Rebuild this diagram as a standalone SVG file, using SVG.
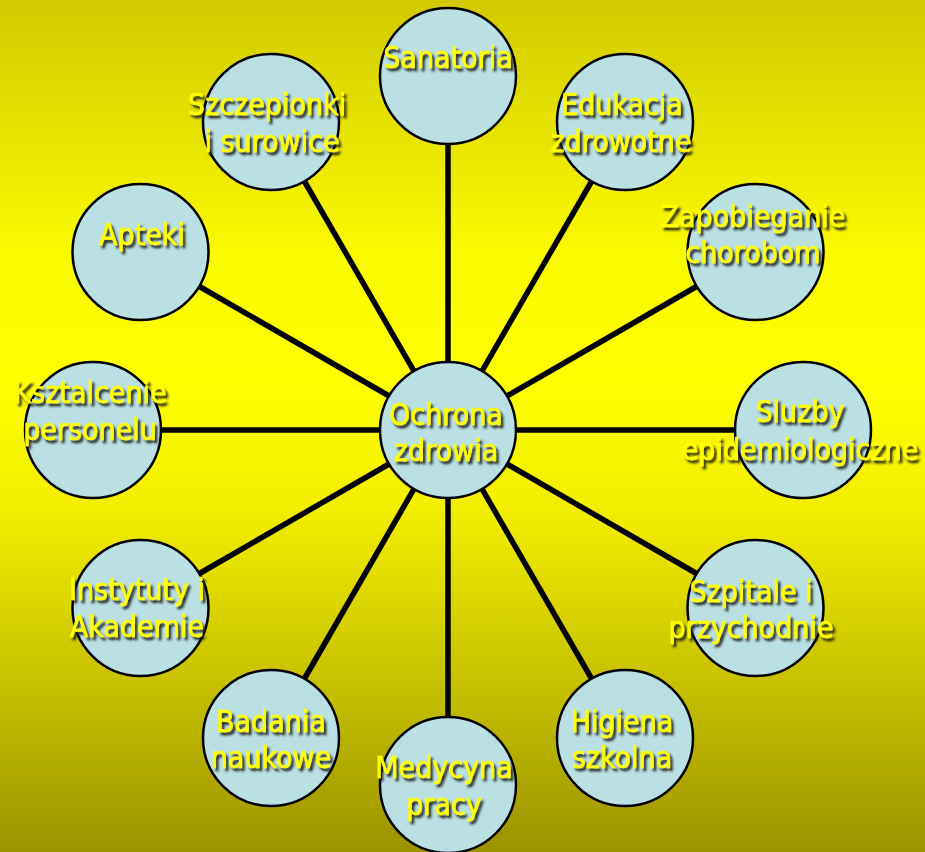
<svg xmlns="http://www.w3.org/2000/svg" width="925" height="852" viewBox="0 0 925 852">
  <defs>
    <linearGradient id="bg" x1="0" y1="0" x2="0" y2="1">
      <stop offset="0" stop-color="#d2ca00"/>
      <stop offset="0.3" stop-color="#fbfb00"/>
      <stop offset="0.45" stop-color="#ffff00"/>
      <stop offset="0.6" stop-color="#f2ee00"/>
      <stop offset="1" stop-color="#9c9400"/>
    </linearGradient>
    <filter id="sh" x="-20%" y="-40%" width="140%" height="180%">
      <feDropShadow dx="2.5" dy="3" stdDeviation="1.3" flood-color="#1e1e14" flood-opacity="0.95"/>
    </filter>
  </defs>
  <style>
    .node circle { fill: #bae0e3; stroke: #000; stroke-width: 2.5; }
    .node text { font-family: "DejaVu Sans Condensed", "DejaVu Sans", sans-serif; font-size: 30px; fill: #ffff00; stroke: #ffff00; stroke-width: 0.5; text-anchor: middle; filter: url(#sh); }
    #connectors line { stroke: #000; stroke-width: 5.5; }
  </style>
  <rect x="0" y="0" width="925" height="852" fill="url(#bg)"/>
  <g id="connectors">
    <line x1="448" y1="362" x2="448" y2="143"/>
    <line x1="482" y1="371.1" x2="591.5" y2="181.5"/>
    <line x1="506.9" y1="396" x2="696.5" y2="286.5"/>
    <line x1="516" y1="430" x2="735" y2="430"/>
    <line x1="506.9" y1="464" x2="696.5" y2="573.5"/>
    <line x1="482" y1="488.9" x2="591.5" y2="678.5"/>
    <line x1="448" y1="498" x2="448" y2="717"/>
    <line x1="414" y1="488.9" x2="304.5" y2="678.5"/>
    <line x1="389.1" y1="464" x2="199.5" y2="573.5"/>
    <line x1="380" y1="430" x2="161" y2="430"/>
    <line x1="389.1" y1="396" x2="199.5" y2="286.5"/>
    <line x1="414" y1="371.1" x2="304.5" y2="181.5"/>
  </g>
  <g id="center" class="node">
    <circle cx="448" cy="430" r="68"/>
    <text x="446" y="425">Ochrona</text>
    <text x="446" y="461">zdrowia</text>
  </g>
  <g id="sanatoria" class="node">
    <circle cx="448" cy="76" r="68"/>
    <text x="448" y="68">Sanatoria</text>
  </g>
  <g id="edukacja" class="node">
    <circle cx="625" cy="122" r="68"/>
    <text x="622" y="115">Edukacja</text>
    <text x="621" y="152">zdrowotne</text>
  </g>
  <g id="zapobieganie" class="node">
    <circle cx="755.5" cy="252" r="68"/>
    <text x="753" y="227">Zapobieganie</text>
    <text x="753" y="263">chorobom</text>
  </g>
  <g id="sluzby" class="node">
    <circle cx="803" cy="430" r="68"/>
    <text x="800" y="422">Sluzby</text>
    <text x="800" y="460">epidemiologiczne</text>
  </g>
  <g id="szpitale" class="node">
    <circle cx="755.5" cy="608" r="68"/>
    <text x="751" y="602">Szpitale i</text>
    <text x="751" y="638">przychodnie</text>
  </g>
  <g id="higiena" class="node">
    <circle cx="625" cy="738" r="68"/>
    <text x="622" y="732">Higiena</text>
    <text x="622" y="768">szkolna</text>
  </g>
  <g id="medycyna" class="node">
    <circle cx="448" cy="785" r="68"/>
    <text x="444" y="778">Medycyna</text>
    <text x="444" y="815">pracy</text>
  </g>
  <g id="badania" class="node">
    <circle cx="271" cy="738" r="68"/>
    <text x="271" y="732">Badania</text>
    <text x="271" y="768">naukowe</text>
  </g>
  <g id="instytuty" class="node">
    <circle cx="140.5" cy="608" r="68"/>
    <text x="137" y="600">Instytuty i</text>
    <text x="137" y="637">Akademie</text>
  </g>
  <g id="ksztalcenie" class="node">
    <circle cx="93" cy="430" r="68"/>
    <text x="90" y="403">Ksztalcenie</text>
    <text x="90" y="440">personelu</text>
  </g>
  <g id="apteki" class="node">
    <circle cx="140.5" cy="252" r="68"/>
    <text x="142" y="245">Apteki</text>
  </g>
  <g id="szczepionki" class="node">
    <circle cx="271" cy="122" r="68"/>
    <text x="267" y="115">Szczepionki</text>
    <text x="272" y="152">i surowice</text>
  </g>
</svg>
